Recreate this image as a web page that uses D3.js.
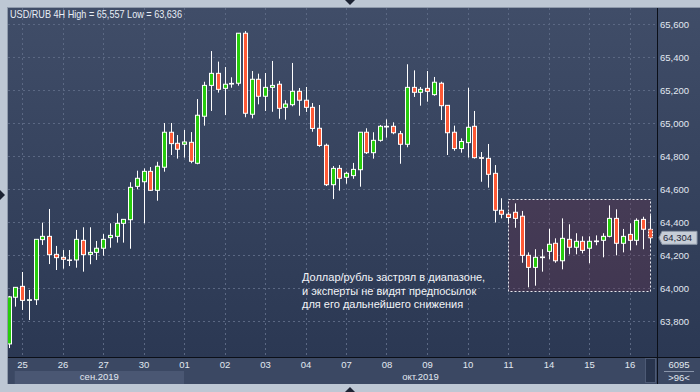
<!DOCTYPE html>
<meta charset="utf-8">
<head>
<script src="https://cdn.jsdelivr.net/npm/d3@7/dist/d3.min.js"></script>
<style>
  body { margin: 0; background: #bdc7d4; }
  svg { display: block; font-family: "Liberation Sans", Arial, sans-serif; }
</style>
</head>
<body>
<svg id="chart" width="700" height="392"></svg>
<script>
// 4H candles, USD/RUB, 24 Sep - 16 Oct 2019
var opens  = [63661,63944,64010,63925,63929,64293,64313,64204,64186,64170,64170,64289,64204,64216,64241,64305,
              64313,64392,64414,64616,64644,64707,64592,64732,64944,64877,64871,64883,64756,65041,65228,65301,
              65210,65236,65241,65544,65053,65265,65162,65216,65235,65095,65111,65192,65138,65095,64968,64865,
              64626,64725,64671,64681,64717,64944,64820,64895,64980,64980,64935,64871,65216,65186,65210,65172,
              65241,65107,64944,64845,64881,64980,64790,64786,64695,64471,64447,64459,64435,64198,64125,64184,
              64222,64271,64165,64295,64247,64283,64241,64281,64289,64313,64422,64271,64325,64289,64416,64356];
var highs  = [63952,64006,64097,63988,64297,64396,64479,64255,64230,64230,64352,64368,64368,64285,64327,64392,
              64453,64418,64641,64711,64725,64733,64765,65000,65000,64927,64958,64945,65145,65250,65436,65372,
              65339,65277,65545,65557,65315,65299,65303,65376,65255,65138,65364,65212,65218,65121,65109,64875,
              64739,64745,64705,64758,64945,64968,64944,64988,65022,65004,64952,65356,65319,65218,65315,65279,
              65250,65109,64984,64907,65214,65073,64824,64873,64745,64544,64460,64513,64467,64216,64235,64235,
              64359,64301,64422,64386,64332,64313,64313,64319,64332,64501,64477,64358,64392,64422,64432,64441];
var lows   = [63636,63887,63867,63806,63897,64261,64145,64109,64117,64133,64123,64099,64144,64170,64196,64244,
              64275,64275,64238,64598,64392,64588,64529,64705,64806,64784,64790,64756,64750,64984,65073,65184,
              65048,65214,65226,65035,65028,65113,65073,65068,65026,65020,65101,65044,65067,64947,64856,64618,
              64539,64590,64632,64662,64614,64812,64784,64887,64911,64932,64753,64853,65158,65105,65129,65165,
              65018,64806,64832,64820,64790,64784,64644,64608,64397,64422,64390,64365,64153,64004,64014,64099,
              64174,64153,64113,64204,64204,64210,64150,64259,64186,64307,64198,64216,64228,64259,64235,64271];
var closes = [63946,64004,63925,63929,64295,64313,64202,64184,64174,64167,64295,64202,64216,64241,64295,64319,
              64392,64416,64610,64665,64707,64592,64738,64944,64875,64841,64885,64768,65047,65228,65301,65204,
              65235,65240,65544,65059,65265,65162,65216,65228,65089,65115,65192,65138,65095,64967,64864,64626,
              64725,64665,64695,64719,64944,64820,64895,64980,64976,64941,64871,65216,65186,65204,65192,65247,
              65105,64941,64845,64888,64974,64790,64786,64689,64471,64447,64427,64422,64198,64125,64186,64188,
              64265,64165,64301,64247,64283,64228,64283,64285,64313,64422,64271,64313,64289,64410,64356,64304];

var dayLabels = ["25","26","27","30","01","02","03","04","07","08","09","10","11","14","15","16"];
var months = ["сен.2019", "окт.2019"];
var priceTicks = [63800,64000,64200,64400,64600,64800,65000,65200,65400,65600];
var title = "USD/RUB 4H High = 65,557 Low = 63,636";
var note = ["Доллар/рубль застрял в диапазоне,", "и эксперты не видят предпосылок", "для его дальнейшего снижения"];
var lastPrice = 64304;
var barCount = 6095;
var rangeBox = {from: 74, to: 95.1, hi: 64540, lo: 63980};

var W = 700, H = 392;
var padL = 8, padT = 8, plotRight = 657, plotBottom = 357, axisBottom = 384;

var svg = d3.select("#chart");
var defs = svg.append("defs");

var grad = defs.append("linearGradient").attr("id", "bg")
    .attr("x1", 0).attr("y1", 0).attr("x2", 0).attr("y2", 1);
grad.append("stop").attr("offset", "0%").attr("stop-color", "#404d68");
grad.append("stop").attr("offset", "100%").attr("stop-color", "#2b3853");

defs.append("clipPath").attr("id", "plotClip")
  .append("rect").attr("x", padL).attr("y", padT)
  .attr("width", plotRight - padL).attr("height", plotBottom - padT);

var x = d3.scaleLinear().domain([0, 95]).range([8.5, 649.75]);
var y = d3.scaleLinear().domain([63800, 65600]).range([321, 24]);

// panel background
svg.append("rect").attr("x", padL - 1).attr("y", padT - 1)
    .attr("width", W - padL + 1).attr("height", axisBottom - padT + 1)
    .attr("fill", "#8f9aab");
svg.append("rect").attr("x", padL).attr("y", padT)
    .attr("width", W - padL).attr("height", plotBottom - padT)
    .attr("fill", "url(#bg)");
svg.append("rect").attr("x", padL).attr("y", plotBottom)
    .attr("width", W - padL).attr("height", axisBottom - plotBottom)
    .attr("fill", "#3b4863");

// grid
var plot = svg.append("g").attr("clip-path", "url(#plotClip)");
var dayIdx = dayLabels.map(function(d, i) { return 2 + 6 * i; });

plot.selectAll(".hgrid").data(priceTicks).enter().append("line")
    .attr("x1", padL).attr("x2", plotRight)
    .attr("y1", function(d) { return Math.round(y(d)) + 0.5; })
    .attr("y2", function(d) { return Math.round(y(d)) + 0.5; })
    .attr("stroke", "#5b6883").attr("stroke-dasharray", "2,3");
plot.selectAll(".vgrid").data(dayIdx).enter().append("line")
    .attr("x1", function(d) { return Math.round(x(d)) + 0.5; })
    .attr("x2", function(d) { return Math.round(x(d)) + 0.5; })
    .attr("y1", padT).attr("y2", plotBottom)
    .attr("stroke", "#5b6883").attr("stroke-dasharray", "2,3");

// range box
plot.append("rect")
    .attr("x", Math.round(x(rangeBox.from)) + 0.5)
    .attr("y", Math.round(y(rangeBox.hi)) + 0.5)
    .attr("width", Math.round(x(rangeBox.to) - x(rangeBox.from)))
    .attr("height", Math.round(y(rangeBox.lo) - y(rangeBox.hi)))
    .attr("fill", "rgba(106,48,71,0.32)")
    .attr("stroke", "#e8e8ee").attr("stroke-dasharray", "2,2");

// candles
var candles = d3.range(opens.length).map(function(i) {
    return {i: i, o: opens[i], h: highs[i], l: lows[i], c: closes[i]};
});
var g = plot.selectAll(".candle").data(candles).enter().append("g");
g.append("line")
    .attr("x1", function(d) { return Math.round(x(d.i)) + 0.5; })
    .attr("x2", function(d) { return Math.round(x(d.i)) + 0.5; })
    .attr("y1", function(d) { return y(d.h); })
    .attr("y2", function(d) { return y(d.l); })
    .attr("stroke", "#ffffff").attr("stroke-width", 1);
g.append("rect")
    .attr("x", function(d) { return Math.round(x(d.i)) - 1.5; })
    .attr("y", function(d) { return y(Math.max(d.o, d.c)); })
    .attr("width", 4)
    .attr("height", function(d) { return Math.max(0.5, Math.abs(y(d.o) - y(d.c))); })
    .attr("fill", function(d) { return d.c > d.o ? "#27cc0c" : "#ff5a36"; })
    .attr("stroke", "#ffffff").attr("stroke-width", 1)
    .attr("stroke-dasharray", function(d) { return d.i === candles.length - 1 ? "2,1" : null; });

// separators
svg.append("line").attr("x1", plotRight + 0.5).attr("x2", plotRight + 0.5)
    .attr("y1", padT).attr("y2", axisBottom).attr("stroke", "#0b0f18");
svg.append("line").attr("x1", padL).attr("x2", W)
    .attr("y1", plotBottom + 0.5).attr("y2", plotBottom + 0.5).attr("stroke", "#0b0f18");

// right price axis
var yAxis = d3.axisRight(y).tickValues(priceTicks).tickSize(0).tickPadding(3)
    .tickFormat(d3.format(","));
var ya = svg.append("g").attr("transform", "translate(" + plotRight + ",0)").call(yAxis);
ya.select(".domain").remove();
ya.selectAll("text").attr("fill", "#e2e8f1").style("font-size", "9.5px")
    .style("font-family", "Liberation Sans, Arial, sans-serif");

// last price marker
var py = y(lastPrice);
svg.append("path")
    .attr("d", "M" + (plotRight + 2) + "," + py + "L" + (plotRight + 5) + "," + (py - 6.5) +
          "L697," + (py - 6.5) + "L697," + (py + 6.5) + "L" + (plotRight + 5) + "," + (py + 6.5) + "Z")
    .attr("fill", "#c6cdd7").attr("stroke", "#8c97a8");
svg.append("text").attr("x", plotRight + 6).attr("y", py + 3.5)
    .attr("fill", "#1d2638").style("font-size", "9.5px")
    .text(d3.format(",")(lastPrice));

// month bands
var monthEdges = [[x(1) - 0.5, x(26)], [x(26), plotRight]];
svg.append("rect").attr("x", monthEdges[0][0]).attr("y", 371)
    .attr("width", monthEdges[0][1] - monthEdges[0][0]).attr("height", axisBottom - 371)
    .attr("fill", "#4a5773");
svg.selectAll(".month").data(months).enter().append("text")
    .attr("x", function(d, i) { return (monthEdges[i][0] + monthEdges[i][1]) / 2; })
    .attr("y", 380).attr("text-anchor", "middle")
    .attr("fill", "#e2e8f1").style("font-size", "9.5px")
    .text(function(d) { return d; });

// bottom day axis
var xAxis = d3.axisBottom(x).tickValues(dayIdx).tickSize(0).tickPadding(4)
    .tickFormat(function(d, i) { return dayLabels[i]; });
var xa = svg.append("g").attr("transform", "translate(0," + plotBottom + ")").call(xAxis);
xa.select(".domain").remove();
xa.selectAll("text").attr("fill", "#e2e8f1").style("font-size", "9.5px")
    .style("font-family", "Liberation Sans, Arial, sans-serif");

// scroll stub and bar count
svg.append("rect").attr("x", 645.5).attr("y", 358.5).attr("width", 10).attr("height", 24)
    .attr("fill", "#28344d").attr("stroke", "#4d5a75");
svg.append("text").attr("x", 679).attr("y", 368).attr("text-anchor", "middle")
    .attr("fill", "#e2e8f1").style("font-size", "9.5px").text(barCount);
svg.append("line").attr("x1", 664).attr("x2", 694).attr("y1", 371.5).attr("y2", 371.5)
    .attr("stroke", "#8995aa");
svg.append("text").attr("x", 679).attr("y", 381).attr("text-anchor", "middle")
    .attr("fill", "#e2e8f1").style("font-size", "9.5px").text(">96<");

// title
svg.append("text").attr("x", 10).attr("y", 18)
    .attr("fill", "#e8eef6").style("font-size", "10.5px")
    .attr("textLength", 172).attr("lengthAdjust", "spacingAndGlyphs")
    .text(title);

// note
svg.selectAll(".note").data(note).enter().append("text")
    .attr("x", 302).attr("y", function(d, i) { return 281 + i * 13.5; })
    .attr("fill", "#f2f4f8").style("font-size", "11px")
    .text(function(d) { return d; });

// edge arrows
svg.append("path").attr("d", "M345,0L355,0L350,5Z").attr("fill", "#1c2333");
svg.append("path").attr("d", "M345,392L355,392L350,387Z").attr("fill", "#1c2333");
svg.append("path").attr("d", "M0,190L0,200L5,195Z").attr("fill", "#1c2333");
</script>
</body>
